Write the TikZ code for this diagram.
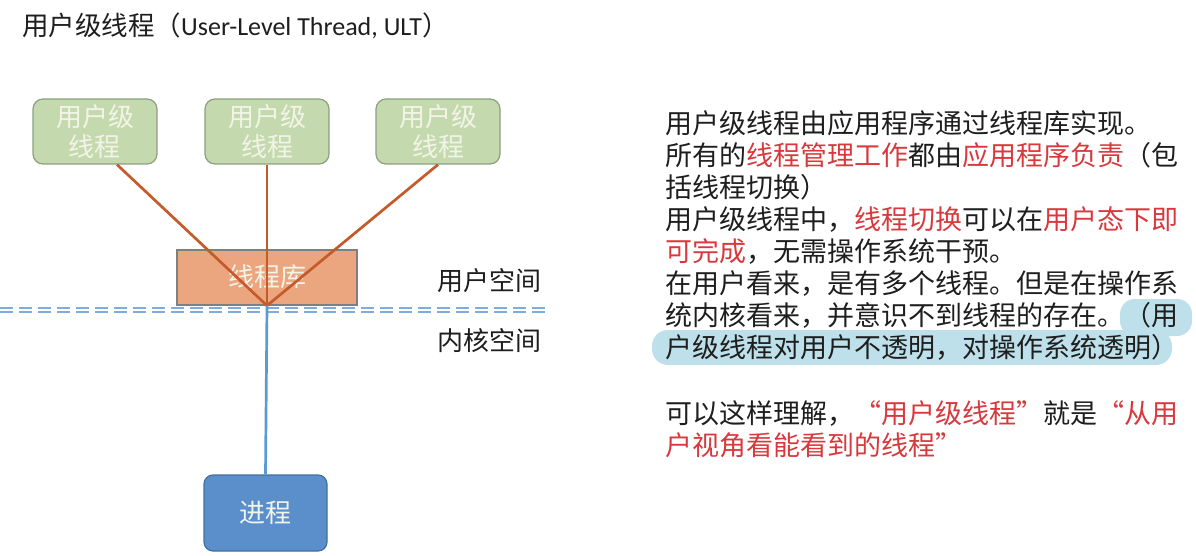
\documentclass[tikz,border=0pt]{standalone}
\usepackage{fontspec}
\setmainfont{Carlito}
\newfontfamily\cjk{Noto Sans CJK SC}
\usetikzlibrary{calc}
\definecolor{gfill}{RGB}{197,217,175}
\definecolor{gdraw}{RGB}{140,160,130}
\definecolor{gtext}{RGB}{242,244,232}
\definecolor{lfill}{RGB}{236,166,127}
\definecolor{ldraw}{RGB}{127,127,127}
\definecolor{redln}{RGB}{197,90,43}
\definecolor{blueln}{RGB}{91,155,213}
\definecolor{dashln}{RGB}{125,172,222}
\definecolor{pfill}{RGB}{90,143,204}
\definecolor{pdraw}{RGB}{65,113,156}
\definecolor{hl}{RGB}{190,224,234}
\definecolor{txtblack}{RGB}{30,30,30}
\definecolor{txtred}{RGB}{217,56,60}
\newcommand\rd[1]{\textcolor{txtred}{#1}}
\begin{document}
\begin{tikzpicture}[x=1pt,y=-1pt,
  cjkfont/.style={font=\cjk\fontsize{26}{30}\selectfont},
  bodyfont/.style={font=\cjk\fontsize{27}{30}\selectfont},
  ultbox/.style={cjkfont, draw=gdraw, fill=gfill, text=gtext, line width=1.2pt,
    rounded corners=10pt, minimum width=124pt, minimum height=65pt,
    align=center, inner sep=0pt},
  libbox/.style={cjkfont, draw=ldraw, fill=lfill, text=gtext, line width=1.2pt,
    minimum width=180pt, minimum height=55pt, inner sep=0pt},
  procbox/.style={cjkfont, draw=pdraw, fill=pfill, text=gtext, line width=1.2pt,
    rounded corners=9pt, minimum width=123pt, minimum height=76pt, inner sep=0pt},
  redline/.style={draw=redln, line width=2.7pt},
  blueline/.style={draw=blueln, line width=2.7pt},
  dblline/.style={draw=dashln, line width=2.2pt, double=white, double distance=2pt,
    dash pattern=on 13pt off 6pt},
  lbl/.style={cjkfont, text=txtblack, inner sep=0pt, text height=23pt, text depth=3pt},
  txt/.style={bodyfont, text=txtblack, anchor=west, inner sep=0pt, text height=24pt, text depth=3pt},
  hlstyle/.style={fill=hl}
]
\useasboundingbox[fill=white] (0,0) rectangle (1196,556);

% title
\node[anchor=west, inner sep=0pt, text=txtblack, text height=21pt, text depth=4pt] (title) at (22,27)
  {\fontsize{26}{26}\selectfont{\cjk\fontsize{26.5}{26.5}\selectfont 用户级线程（}User-Level Thread, ULT{\cjk\fontsize{26.5}{26.5}\selectfont ）}};

% boundary line
\coordinate (dl) at (0,310);
\coordinate (dr) at (545,310);
\draw[dblline] (dl) -- (dr);

% nodes
\node[ultbox] (u1) at (95,131.5) {用户级\\线程};
\node[ultbox] (u2) at (267,131.5) {用户级\\线程};
\node[ultbox] (u3) at (438,131.5) {用户级\\线程};
\node[libbox] (lib) at (267,277.5) {\raisebox{3pt}{线程库}};
\node[procbox] (proc) at (265.5,513) {进程};

% connectors
\draw[redline] ([xshift=22pt]u1.south) -- (lib.south);
\draw[redline] (u2.south) -- (lib.south);
\draw[redline] (u3.south) -- (lib.south);
\draw[blueline] (lib.south) -- (proc.north);

% space labels
\node[lbl, anchor=east] (us) at (542,280) {用户空间};
\node[lbl, anchor=east] (ks) at (542,340) {内核空间};

% highlight
\fill[hlstyle, rounded corners=15pt] (1120,299) rectangle (1192,336);
\fill[hlstyle, rounded corners=16pt] (652,330) rectangle (1172,365);

% right text
\node[txt] (l1) at (665,123) {用户级线程由应用程序通过线程库实现。};
\node[txt] (l2) at (665,155) {所有的\rd{线程管理工作}都由\rd{应用程序负责}（包};
\node[txt] (l3) at (665,187) {括线程切换）};
\node[txt] (l4) at (665,219) {用户级线程中，\rd{线程切换}可以在\rd{用户态下即}};
\node[txt] (l5) at (665,251) {\rd{可完成}，无需操作系统干预。};
\node[txt] (l6) at (665,283) {在用户看来，是有多个线程。但是在操作系};
\node[txt] (l7) at (665,315) {统内核看来，并意识不到线程的存在。（用};
\node[txt] (l8) at (665,347) {户级线程对用户不透明，对操作系统透明）};
\node[txt] (l9) at (665,413) {可以这样理解，\rd{“用户级线程”}就是\rd{“从用}};
\node[txt] (l10) at (665,445) {\rd{户视角看能看到的线程”}};
\end{tikzpicture}
\end{document}
